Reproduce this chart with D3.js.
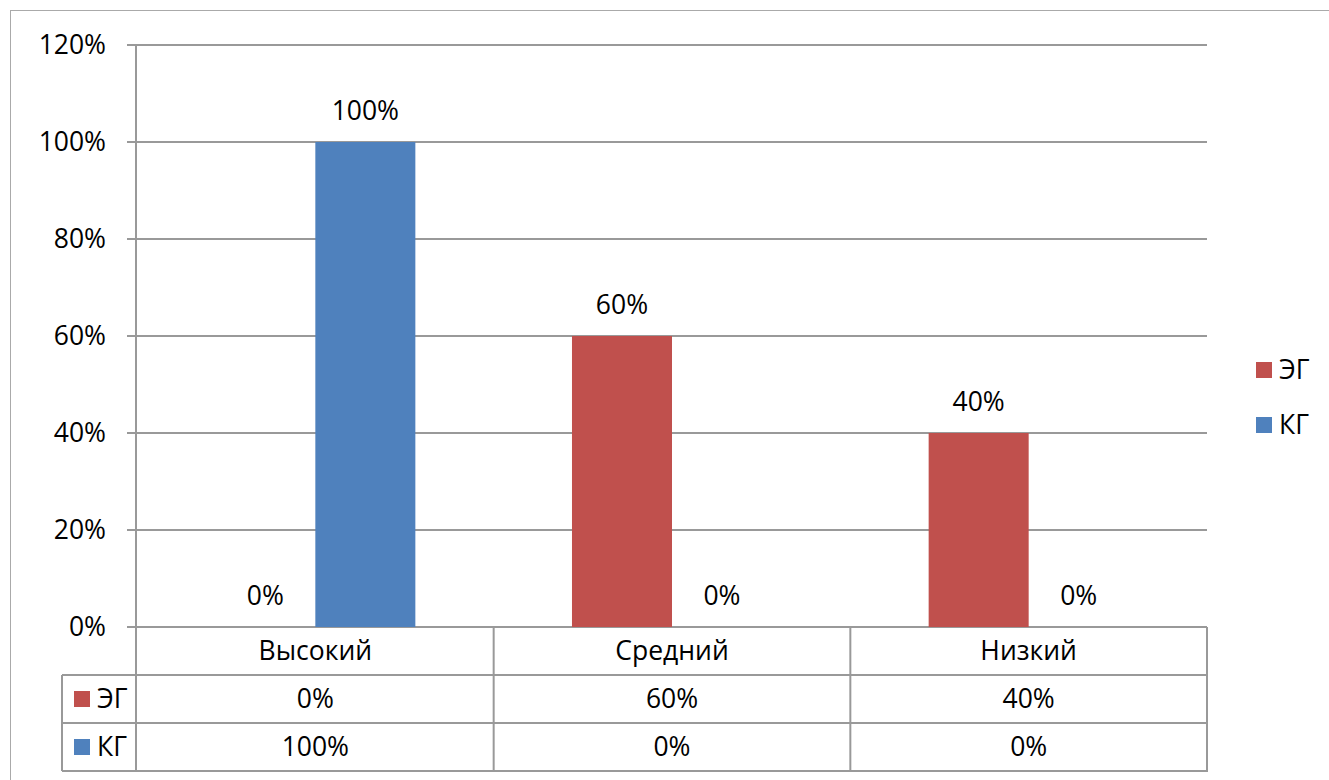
<!DOCTYPE html>
<html lang="ru">
<head>
<meta charset="UTF-8">
<title>ЭГ / КГ</title>
<style>
  html, body { margin: 0; padding: 0; background: #fff; }
  svg text { font-family: "Open Sans", "Noto Sans", sans-serif; fill: #000; }
</style>
</head>
<body>
<svg id="chart" width="1329" height="780"></svg>
<script src="https://d3js.org/d3.v7.min.js"></script>
<script>
const categories = ["Высокий", "Средний", "Низкий"];
const seriesNames = ["ЭГ", "КГ"];
const seriesColors = ["#C0504D", "#4F81BD"];
const valuesEG = [0, 0.6, 0.4];
const valuesKG = [1, 0, 0];
const yTicks = [0, 0.2, 0.4, 0.6, 0.8, 1.0, 1.2];

const series = [valuesEG, valuesKG];
const fmt = d3.format(".0%");
const fs = 26.5;

const svg = d3.select("#chart");
const plotLeft = 137, plotRight = 1207, plotTop = 45, plotBottom = 627;
const rowH = 48;

// outer chart border
svg.append("rect")
    .attr("x", 10.5).attr("y", 10.5)
    .attr("width", 1340).attr("height", 800)
    .attr("fill", "none").attr("stroke", "#aaa").attr("stroke-width", 1);

const x0 = d3.scaleBand().domain(categories).range([plotLeft, plotRight]).padding(0);
const x1 = d3.scaleBand().domain(seriesNames).range([0, x0.bandwidth()])
    .paddingInner(0).paddingOuter(0.783);
const y = d3.scaleLinear().domain([0, 1.2]).range([plotBottom, plotTop]);

// gridlines
svg.append("g").selectAll("line").data(yTicks).join("line")
    .attr("x1", plotLeft - 10).attr("x2", plotRight)
    .attr("y1", d => y(d)).attr("y2", d => y(d))
    .attr("stroke", "#999").attr("stroke-width", 2);

// y axis line
svg.append("line")
    .attr("x1", plotLeft - 1).attr("x2", plotLeft - 1)
    .attr("y1", plotTop).attr("y2", plotBottom + rowH * 3)
    .attr("stroke", "#999").attr("stroke-width", 2);

// y tick labels
svg.append("g").selectAll("text").data(yTicks).join("text")
    .attr("x", 106).attr("y", d => y(d))
    .attr("dy", "0.35em").attr("text-anchor", "end")
    .attr("font-size", fs)
    .text(d => fmt(d));

// bars
const groups = svg.append("g").selectAll("g").data(categories).join("g")
    .attr("transform", c => `translate(${x0(c)},0)`);

groups.selectAll("rect")
    .data((c, i) => seriesNames.map((s, j) => ({ s, j, v: series[j][i] })))
    .join("rect")
    .attr("x", d => x1(d.s))
    .attr("width", x1.bandwidth())
    .attr("y", d => y(d.v))
    .attr("height", d => plotBottom - y(d.v))
    .attr("fill", d => seriesColors[d.j]);

groups.selectAll("text")
    .data((c, i) => seriesNames.map((s, j) => ({ s, j, v: series[j][i] })))
    .join("text")
    .attr("x", d => x1(d.s) + x1.bandwidth() / 2)
    .attr("y", d => y(d.v) - 22)
    .attr("text-anchor", "middle")
    .attr("font-size", fs)
    .text(d => fmt(d.v));

// data table
const table = svg.append("g");
const tableLeft = 62;
const lineColor = "#999";

// horizontal lines
[1, 2, 3].forEach(r => {
    table.append("line")
        .attr("x1", tableLeft).attr("x2", plotRight + 1)
        .attr("y1", plotBottom + rowH * r).attr("y2", plotBottom + rowH * r)
        .attr("stroke", lineColor).attr("stroke-width", 2);
});
// vertical lines
table.append("line")
    .attr("x1", tableLeft).attr("x2", tableLeft)
    .attr("y1", plotBottom + rowH).attr("y2", plotBottom + rowH * 3)
    .attr("stroke", lineColor).attr("stroke-width", 2);
categories.forEach(c => {
    const xr = x0(c) + x0.bandwidth();
    table.append("line")
        .attr("x1", xr).attr("x2", xr)
        .attr("y1", plotBottom).attr("y2", plotBottom + rowH * 3)
        .attr("stroke", lineColor).attr("stroke-width", 2);
});

// category labels
table.selectAll("text.cat").data(categories).join("text")
    .attr("class", "cat")
    .attr("x", c => x0(c) + x0.bandwidth() / 2)
    .attr("y", plotBottom + rowH / 2)
    .attr("dy", "0.35em").attr("text-anchor", "middle")
    .attr("font-size", fs)
    .text(c => c);

seriesNames.forEach((s, j) => {
    const cy = plotBottom + rowH * (j + 1) + rowH / 2;
    table.append("rect")
        .attr("x", 74).attr("y", cy - 8)
        .attr("width", 16).attr("height", 16)
        .attr("fill", seriesColors[j]);
    table.append("text")
        .attr("x", 97).attr("y", cy)
        .attr("dy", "0.35em")
        .attr("font-size", fs)
        .text(s);
    table.selectAll("text.v" + j).data(categories).join("text")
        .attr("class", "v" + j)
        .attr("x", c => x0(c) + x0.bandwidth() / 2)
        .attr("y", cy)
        .attr("dy", "0.35em").attr("text-anchor", "middle")
        .attr("font-size", fs)
        .text((c, i) => fmt(series[j][i]));
});

// legend
const legend = svg.append("g");
seriesNames.forEach((s, j) => {
    const cy = 370 + j * 55;
    legend.append("rect")
        .attr("x", 1256).attr("y", cy - 8)
        .attr("width", 16).attr("height", 16)
        .attr("fill", seriesColors[j]);
    legend.append("text")
        .attr("x", 1279).attr("y", cy)
        .attr("dy", "0.35em")
        .attr("font-size", fs)
        .text(s);
});
</script>
</body>
</html>
